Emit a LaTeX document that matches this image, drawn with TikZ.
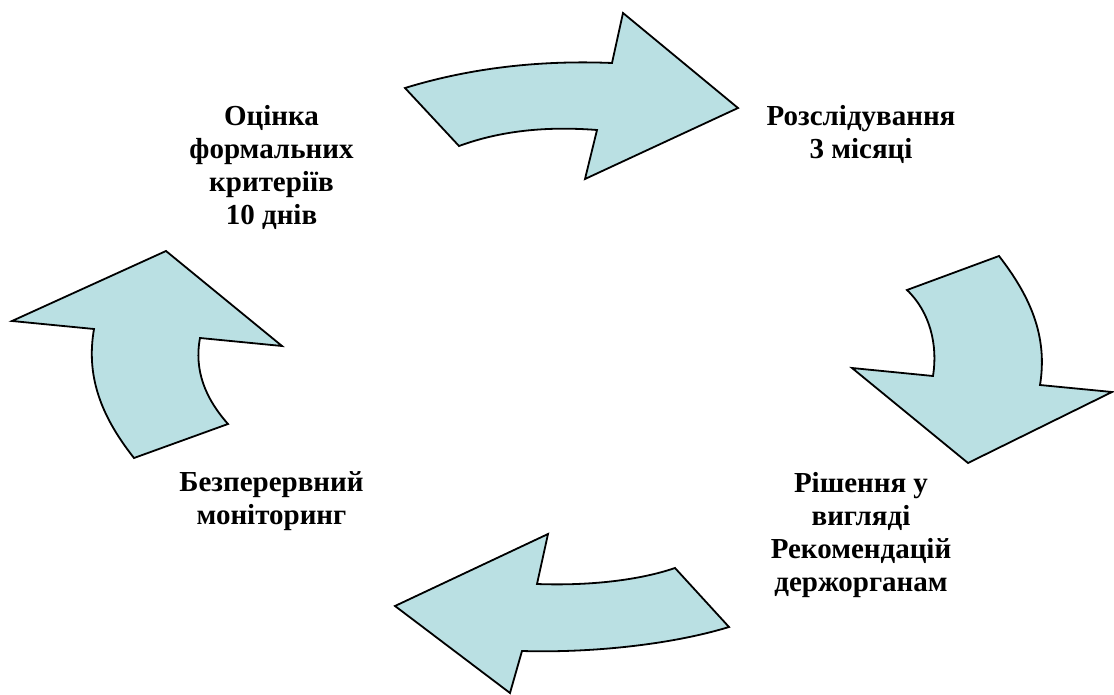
\documentclass[tikz,border=0pt]{standalone}
\usepackage{fontspec}
\setmainfont{Liberation Serif}
\definecolor{arrowfill}{RGB}{186,224,227}
\begin{document}
\begin{tikzpicture}[x=1pt,y=-1pt,
  arrowshape/.style={fill=arrowfill,draw=black,line width=1.8pt,line join=miter},
  label/.style={font=\bfseries\fontsize{29}{33}\selectfont,align=center,inner sep=0pt}]
\useasboundingbox (0,0) rectangle (1114,695);
% top arrow
\draw[arrowshape] (405,88) .. controls (470,68) and (540,60) .. (612,63)
  -- (623,13) -- (738,108) -- (585,179) -- (597,130)
  .. controls (545,126) and (500,131) .. (459,146) -- cycle;
% right arrow
\draw[arrowshape] (907,290) -- (999,256)
  .. controls (1030,296) and (1048,336) .. (1040,385)
  -- (1112,392) -- (968,463) -- (852,368) -- (933,376)
  .. controls (938,345) and (930,312) .. cycle;
% bottom arrow
\draw[arrowshape] (675,568) -- (729,627)
  .. controls (670,645) and (590,653) .. (522,651)
  -- (510,693) -- (395,606) -- (548,534) -- (537,584)
  .. controls (590,586) and (640,580) .. cycle;
% left arrow
\draw[arrowshape] (134,458) -- (228,424)
  .. controls (205,398) and (194,370) .. (200,338)
  -- (282,346) -- (166,251) -- (12,321) -- (94,329)
  .. controls (86,375) and (100,415) .. cycle;
% labels
\node[label] (eval) at (271.5,167) {Оцінка\\формальних\\критеріїв\\10 днів};
\node[label] (inv) at (861,134) {Розслідування\\3 місяці};
\node[label] (dec) at (861,535) {Рішення у\\вигляді\\Рекомендацій\\держорганам};
\node[label] (mon) at (271.5,501) {Безперервний\\моніторинг};
\end{tikzpicture}
\end{document}
